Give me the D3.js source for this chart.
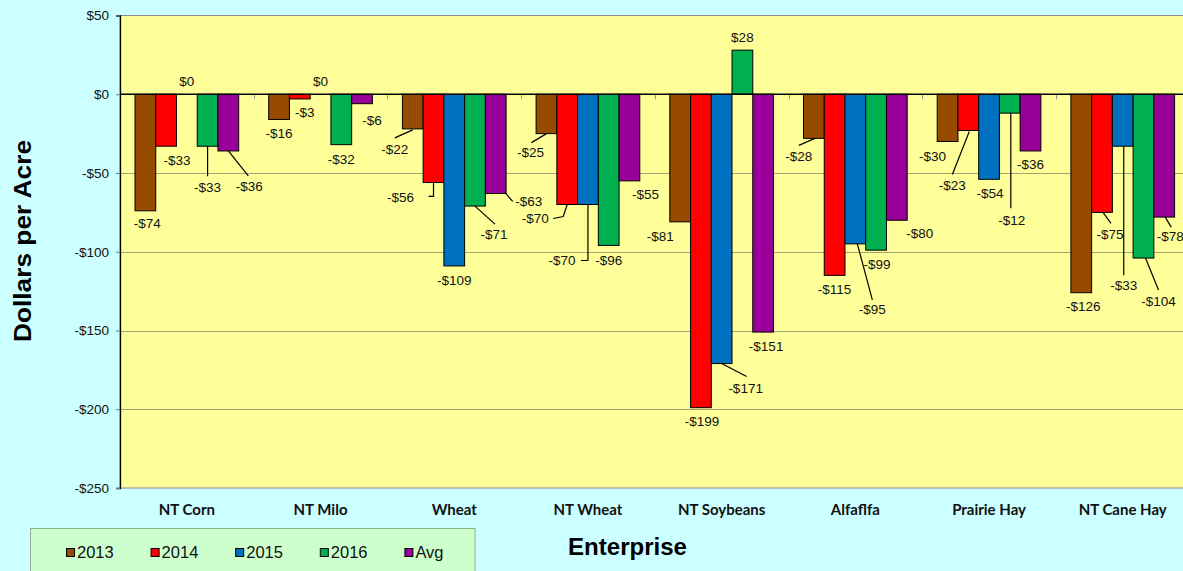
<!DOCTYPE html>
<html>
<head>
<meta charset="utf-8">
<script src="https://cdn.jsdelivr.net/npm/d3@7"></script>
<style>
  html, body { margin: 0; padding: 0; background: #CCFFFF; }
  svg { display: block; }
</style>
</head>
<body>
<svg id="chart" width="1183" height="571"></svg>
<script>
// ---------------- DATA ----------------
const categories = ["NT Corn", "NT Milo", "Wheat", "NT Wheat", "NT Soybeans", "Alfaflfa", "Prairie Hay", "NT Cane Hay"];
const seriesNames = ["2013", "2014", "2015", "2016", "Avg"];
const values2013 = [-74, -16, -22, -25, -81, -28, -30, -126];
const values2014 = [-33, -3, -56, -70, -199, -115, -23, -75];
const values2015 = [0, 0, -109, -70, -171, -95, -54, -33];
const values2016 = [-33, -32, -71, -96, 28, -99, -12, -104];
const valuesAvg  = [-36, -6, -63, -55, -151, -80, -36, -78];
const yTickValues = [50, 0, -50, -100, -150, -200, -250];
const yTitle = "Dollars per Acre";
const xTitle = "Enterprise";

// ---------------- LAYOUT (label placement, px relative to bar end) ----------------
const labelOffsets = {
  "2013": [[2,13],[0,14],[-18,21],[-16,19],[-20,15],[-15,18],[-15,15],[2,14]],
  "2014": [[11,14],[5,14],[-33,15],[-32,14],[1,14],[0,14],[-16,55],[8,22]],
  "2015": [[0,-13],[0,-13],[0,15],[-26,56],[24,25],[17,66],[1,14],[1,139]],
  "2016": [[0,41],[0,15],[19,28],[0,15],[0,-13],[1,14],[2,107],[15,43]],
  "Avg":  [[21,36],[10,17],[33,8],[16,14],[3,14],[23,13],[0,14],[6,19]]
};
const leaderLines = {
  "2013": [null, null, [[0,1],[-18,9]], [[0,0],[-15,9]], null, [[1,0],[-15,7]], null, null],
  "2014": [null, null, [[0,0],[0,14],[-5,14]], [[0,0],[-4,12],[-14,14]], null, null, [[1,1],[-16,44]], [[1,0],[9,11]]],
  "2015": [null, null, null, [[0,0],[0,56],[-7,56]], [[0,0],[25,13]], [[2,0],[17,56]], null, [[1,0],[1,129]]],
  "2016": [[[0,0],[0,30]], null, [[0,0],[20,18]], null, null, null, [[1,0],[1,95]], [[2,0],[15,32]]],
  "Avg":  [[[0,0],[20,25]], null, [[10,0],[17,8]], null, null, null, null, [[1,0],[7,10]]]
};

const seriesValues = { "2013": values2013, "2014": values2014, "2015": values2015, "2016": values2016, "Avg": valuesAvg };
const colors = { "2013": "#964B00", "2014": "#FF0000", "2015": "#0070C0", "2016": "#00B050", "Avg": "#990099" };

// ---------------- CHART ----------------
const svg = d3.select("#chart");
const plot = { left: 120, right: 1189.6, top: 15.5, bottom: 488 };

svg.append("rect").attr("width", 1183).attr("height", 571).attr("fill", "#CCFFFF");

const y = d3.scaleLinear().domain([-250, 50]).range([plot.bottom, plot.top]);
const x0 = d3.scaleBand().domain(categories).range([plot.left, plot.right]).paddingInner(0).paddingOuter(0);
const x1 = d3.scaleBand().domain(seriesNames).range([15, x0.bandwidth() - 15]).padding(0);

// plot area
svg.append("rect")
  .attr("x", plot.left).attr("y", plot.top)
  .attr("width", plot.right - plot.left).attr("height", plot.bottom - plot.top)
  .attr("fill", "#FFFF99").attr("stroke", "#8C8C8C").attr("stroke-width", 1);

// gridlines
svg.append("g").selectAll("line").data(yTickValues.filter(v => v !== 0 && v !== 50 && v !== -250)).join("line")
  .attr("x1", plot.left).attr("x2", plot.right)
  .attr("y1", d => Math.round(y(d)) + 0.5).attr("y2", d => Math.round(y(d)) + 0.5)
  .attr("stroke", "#A3A375").attr("stroke-width", 1);

// y axis
const yAxis = d3.axisLeft(y).tickValues(yTickValues).tickSize(4).tickPadding(7)
  .tickFormat(d => (d < 0 ? "-$" : "$") + Math.abs(d));
const yg = svg.append("g").attr("transform", `translate(${plot.left},0)`).call(yAxis);
yg.select(".domain").attr("stroke", "#000").attr("stroke-width", 1.3);
yg.selectAll(".tick line").attr("stroke", "#777");
yg.selectAll(".tick text").attr("font-family", "'Liberation Sans', Arial, sans-serif")
  .attr("font-size", "13.5px").attr("fill", "#111");

// category ticks on zero line
const boundaries = categories.slice(1).map(c => x0(c));
svg.append("g").selectAll("line").data(boundaries).join("line")
  .attr("x1", d => Math.round(d) + 0.5).attr("x2", d => Math.round(d) + 0.5)
  .attr("y1", y(0)).attr("y2", y(0) + 5)
  .attr("stroke", "#999");

// bars
const barData = [];
categories.forEach((c, i) => {
  seriesNames.forEach(s => {
    barData.push({ cat: c, idx: i, series: s, value: seriesValues[s][i] });
  });
});

svg.append("g").selectAll("rect").data(barData.filter(d => d.value !== 0)).join("rect")
  .attr("x", d => x0(d.cat) + x1(d.series))
  .attr("y", d => Math.min(y(0), y(d.value)))
  .attr("width", x1.bandwidth())
  .attr("height", d => Math.abs(y(d.value) - y(0)))
  .attr("fill", d => colors[d.series])
  .attr("stroke", "#000").attr("stroke-width", 1);

// zero line
svg.append("line")
  .attr("x1", plot.left).attr("x2", plot.right)
  .attr("y1", y(0)).attr("y2", y(0))
  .attr("stroke", "#000").attr("stroke-width", 1.3);

// leader lines
const lineGen = d3.line();
const leaderData = barData.filter(d => leaderLines[d.series][d.idx]);
svg.append("g").selectAll("path").data(leaderData).join("path")
  .attr("d", d => {
    const cx = x0(d.cat) + x1(d.series) + x1.bandwidth() / 2;
    const cy = y(d.value);
    return lineGen(leaderLines[d.series][d.idx].map(p => [cx + p[0], cy + p[1]]));
  })
  .attr("fill", "none").attr("stroke", "#000").attr("stroke-width", 1.2);

// data labels
svg.append("g").selectAll("text").data(barData).join("text")
  .attr("x", d => x0(d.cat) + x1(d.series) + x1.bandwidth() / 2 + labelOffsets[d.series][d.idx][0])
  .attr("y", d => y(d.value) + labelOffsets[d.series][d.idx][1])
  .attr("text-anchor", "middle").attr("dominant-baseline", "central")
  .attr("font-family", "'Liberation Sans', Arial, sans-serif").attr("font-size", "13.5px")
  .attr("fill", "#111")
  .text(d => (d.value < 0 ? "-$" : "$") + Math.abs(d.value));

// category labels
svg.append("g").selectAll("text").data(categories).join("text")
  .attr("x", d => x0(d) + x0.bandwidth() / 2)
  .attr("y", 509)
  .attr("text-anchor", "middle").attr("dominant-baseline", "central")
  .attr("font-family", "Lato, 'Open Sans', sans-serif").attr("font-weight", "bold")
  .attr("font-size", "15px").attr("fill", "#111")
  .text(d => d);

// axis titles
svg.append("text")
  .attr("transform", "translate(23,241) rotate(-90)")
  .attr("text-anchor", "middle").attr("dominant-baseline", "central")
  .attr("font-family", "'Liberation Sans', Arial, sans-serif").attr("font-weight", "bold")
  .attr("font-size", "23px").attr("textLength", 202).attr("lengthAdjust", "spacingAndGlyphs")
  .attr("fill", "#000")
  .text(yTitle);

svg.append("text")
  .attr("x", 627.5).attr("y", 547)
  .attr("text-anchor", "middle").attr("dominant-baseline", "central")
  .attr("font-family", "'Liberation Sans', Arial, sans-serif").attr("font-weight", "bold")
  .attr("font-size", "23px").attr("textLength", 119).attr("lengthAdjust", "spacingAndGlyphs")
  .attr("fill", "#000")
  .text(xTitle);

// legend
const legend = svg.append("g");
legend.append("rect")
  .attr("x", 30.5).attr("y", 528.5).attr("width", 444.5).attr("height", 60)
  .attr("fill", "#CCFFCC").attr("stroke", "#8FAE8F").attr("stroke-width", 1);
const items = legend.selectAll("g.item").data(seriesNames).join("g")
  .attr("class", "item")
  .attr("transform", (d, i) => `translate(${66 + 84.6 * i},0)`);
items.append("rect")
  .attr("x", 0.5).attr("y", 548.5).attr("width", 8).attr("height", 8)
  .attr("fill", d => colors[d]).attr("stroke", "#000").attr("stroke-width", 1);
items.append("text")
  .attr("x", 11).attr("y", 552)
  .attr("dominant-baseline", "central")
  .attr("font-family", "'Liberation Sans', Arial, sans-serif").attr("font-size", "16.5px")
  .attr("fill", "#111")
  .text(d => d);
</script>
</body>
</html>
